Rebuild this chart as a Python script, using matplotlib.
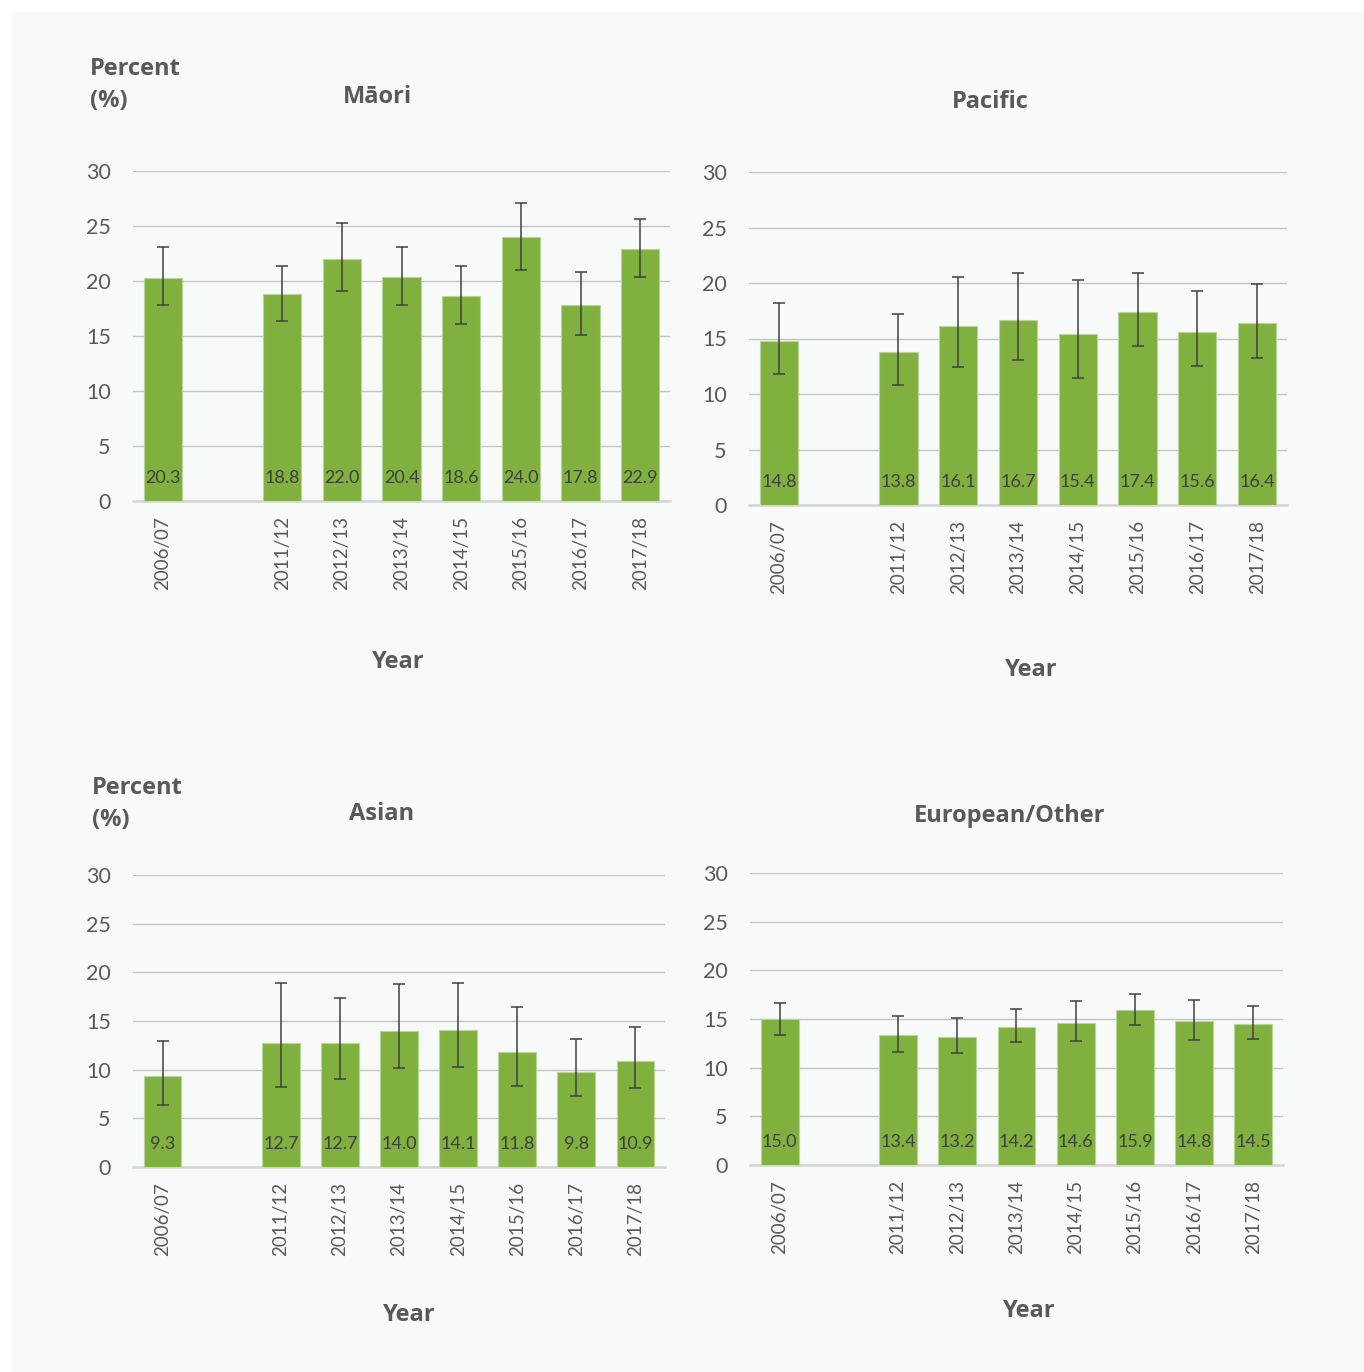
import matplotlib.pyplot as plt
import numpy as np

# survey years (one empty slot between 2006/07 and 2011/12)
years = ['2006/07', '', '2011/12', '2012/13', '2013/14', '2014/15', '2015/16', '2016/17', '2017/18']

maori = [20.3, None, 18.8, 22.0, 20.4, 18.6, 24.0, 17.8, 22.9]
maori_lo = [17.8, None, 16.4, 19.1, 17.8, 16.1, 21.0, 15.1, 20.4]
maori_hi = [23.1, None, 21.4, 25.3, 23.1, 21.4, 27.1, 20.8, 25.6]

pacific = [14.8, None, 13.8, 16.1, 16.7, 15.4, 17.4, 15.6, 16.4]
pacific_lo = [11.8, None, 10.8, 12.4, 13.1, 11.4, 14.3, 12.5, 13.2]
pacific_hi = [18.2, None, 17.2, 20.5, 20.9, 20.3, 20.9, 19.3, 19.9]

asian = [9.3, None, 12.7, 12.7, 14.0, 14.1, 11.8, 9.8, 10.9]
asian_lo = [6.4, None, 8.2, 9.0, 10.2, 10.3, 8.3, 7.3, 8.1]
asian_hi = [12.9, None, 18.9, 17.4, 18.8, 18.9, 16.4, 13.2, 14.4]

european = [15.0, None, 13.4, 13.2, 14.2, 14.6, 15.9, 14.8, 14.5]
european_lo = [13.4, None, 11.6, 11.5, 12.6, 12.7, 14.4, 12.8, 12.9]
european_hi = [16.6, None, 15.3, 15.1, 16.0, 16.8, 17.6, 17.0, 16.3]

W, H = 1364, 1372
BG = '#f8f9f9'
GREEN = '#80b03e'
GREY = '#595959'
DARK = '#404040'

fig = plt.figure(figsize=(W / 100, H / 100), dpi=100)
fig.patch.set_facecolor('white')
fig.patches.append(plt.Rectangle((11 / W, 0), 1, 1 - 12 / H, transform=fig.transFigure,
                                 facecolor=BG, edgecolor='none', zorder=-10))


def px_axes(x0, x1, y0, y1):
    return fig.add_axes([x0 / W, 1 - y1 / H, (x1 - x0) / W, (y1 - y0) / H])


def draw_panel(ax, vals, lo, hi):
    ax.set_facecolor('none')
    idx = [i for i, v in enumerate(vals) if v is not None]
    x = np.array(idx)
    v = np.array([vals[i] for i in idx])
    l = np.array([lo[i] for i in idx])
    h = np.array([hi[i] for i in idx])
    ax.bar(x, v, width=0.64, color=GREEN, edgecolor='#b9d69a', linewidth=0.8, zorder=2)
    ax.errorbar(x, v, yerr=[v - l, h - v], fmt='none', ecolor=DARK, elinewidth=1.1,
                capsize=4.5, capthick=1.1, zorder=3)
    for xi, vi in zip(x, v):
        ax.annotate(f'{vi:.1f}', (xi, 0), xytext=(0, 23), textcoords='offset pixels',
                    ha='center', va='center', fontsize=13, color=DARK,
                    family='Lato', zorder=4)
    ax.set_xlim(-0.5, len(years) - 0.5)
    ax.set_ylim(0, 30)
    ax.set_yticks(range(0, 31, 5))
    ax.set_xticks([i for i in range(len(years)) if years[i]])
    ax.set_xticklabels([y for y in years if y], rotation=90)
    ax.tick_params(axis='x', length=0, pad=11, labelsize=13.5, labelcolor=GREY)
    ax.tick_params(axis='y', length=0, pad=16, labelsize=15.5, labelcolor=GREY)
    for lab in ax.get_xticklabels() + ax.get_yticklabels():
        lab.set_family('Lato')
    ax.grid(axis='y', color='#c4c4c4', linewidth=1, zorder=0)
    ax.set_axisbelow(True)
    for s in ['top', 'right', 'left']:
        ax.spines[s].set_visible(False)
    ax.spines['bottom'].set_color('#d4d4d4')
    ax.spines['bottom'].set_linewidth(1.8)
    ax.spines['bottom'].set_zorder(1)


ax1 = px_axes(133, 670, 171, 501)
ax2 = px_axes(749, 1287, 172, 505)
ax3 = px_axes(133, 665, 875, 1167)
ax4 = px_axes(750, 1283, 873, 1165)

draw_panel(ax1, maori, maori_lo, maori_hi)
draw_panel(ax2, pacific, pacific_lo, pacific_hi)
draw_panel(ax3, asian, asian_lo, asian_hi)
draw_panel(ax4, european, european_lo, european_hi)

head = dict(fontsize=17, fontweight='bold', color=GREY, family='Open Sans')


def label(x, y, s, **kw):
    fig.text(x / W, 1 - y / H, s, **{**head, **kw})


# panel titles
label(377, 97, 'Māori', ha='center', va='center')
label(990, 102, 'Pacific', ha='center', va='center')
label(382, 814, 'Asian', ha='center', va='center')
label(1010, 816, 'European/Other', ha='center', va='center')

# y-axis captions
label(90, 69, 'Percent', ha='left', va='center')
label(90, 101, '(%)', ha='left', va='center')
label(92, 788, 'Percent', ha='left', va='center')
label(92, 820, '(%)', ha='left', va='center')

# x-axis captions
label(398, 662, 'Year', ha='center', va='center')
label(1031, 670, 'Year', ha='center', va='center')
label(409, 1315, 'Year', ha='center', va='center')
label(1029, 1311, 'Year', ha='center', va='center')

fig.savefig('out.png', dpi=100, facecolor=fig.get_facecolor())
